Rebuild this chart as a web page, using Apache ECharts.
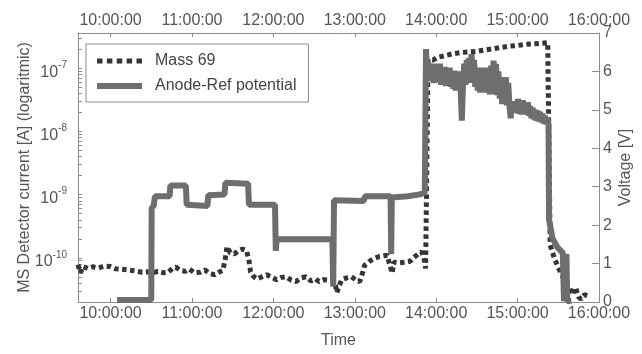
<!DOCTYPE html>
<html>
<head>
<meta charset="utf-8">
<script src="https://cdn.jsdelivr.net/npm/echarts@6/dist/echarts.min.js"></script>
<style>
html, body { margin: 0; background: #fff; }
#chart { width: 642px; height: 354px; }
</style>
</head>
<body>
<div id="chart"></div>
<script>
// time in decimal hours, current in A, voltage in V
var timeTicks = [10, 11, 12, 13, 14, 15, 16];
var decadeTicks = [-10, -9, -8, -7];

var massTime = [9.60, 9.63, 9.66, 9.72, 9.78, 9.85, 9.92, 9.99, 10.06, 10.14, 10.22, 10.30, 10.39, 10.46, 10.51,
    10.58, 10.65, 10.71, 10.76, 10.80, 10.86, 10.92, 10.97, 11.03, 11.10, 11.16, 11.22, 11.28, 11.34, 11.38,
    11.41, 11.43, 11.47, 11.52, 11.57, 11.62, 11.67, 11.70, 11.72, 11.76, 11.80, 11.86, 11.92, 11.98, 12.04,
    12.10, 12.16, 12.22, 12.28, 12.34, 12.40, 12.46, 12.52, 12.56, 12.62, 12.68, 12.72, 12.76, 12.78, 12.80,
    12.84, 12.90, 12.96, 13.02, 13.06, 13.10, 13.12, 13.18, 13.24, 13.30, 13.36, 13.40, 13.42, 13.46, 13.48,
    13.55, 13.62, 13.68, 13.72, 13.78, 13.82, 13.85, 13.87, 13.90, 13.96, 14.02, 14.10, 14.20, 14.30, 14.40,
    14.50, 14.60, 14.70, 14.80, 14.90, 15.00, 15.10, 15.20, 15.30, 15.37, 15.385, 15.40, 15.45, 15.50, 15.55,
    15.60, 15.64, 15.68, 15.71, 15.75, 15.78, 15.82, 15.86];
var massCurrent = [7.8e-11, 5.8e-11, 7.3e-11, 6.8e-11, 7.2e-11, 6.9e-11, 7.4e-11, 7.3e-11, 6.7e-11, 6.6e-11, 6.4e-11, 6.2e-11, 5.9e-11, 6.0e-11, 5.7e-11,
    6.1e-11, 5.8e-11, 5.9e-11, 6.8e-11, 7.1e-11, 6.3e-11, 6.1e-11, 6.6e-11, 5.8e-11, 5.9e-11, 6.4e-11, 5.6e-11, 5.4e-11, 6.0e-11, 6.3e-11,
    9.8e-11, 1.5e-10, 1.2e-10, 1.15e-10, 1.3e-10, 1.38e-10, 1.3e-10, 9.1e-11, 6.0e-11, 5.0e-11, 4.6e-11, 5.0e-11, 5.4e-11, 4.9e-11, 4.5e-11,
    4.9e-11, 5.0e-11, 4.4e-11, 4.2e-11, 4.8e-11, 5.0e-11, 4.3e-11, 4.6e-11, 4.2e-11, 4.5e-11, 4.4e-11, 4.5e-11, 3.9e-11, 2.8e-11, 3.4e-11,
    4.5e-11, 4.8e-11, 5.0e-11, 4.4e-11, 4.2e-11, 6.0e-11, 7.6e-11, 8.8e-11, 9.8e-11, 1.05e-10, 1.08e-10, 1.1e-10, 8.5e-11, 5.7e-11, 8.5e-11,
    8.3e-11, 8.5e-11, 8.8e-11, 1.0e-10, 1.15e-10, 1.25e-10, 1.0e-10, 6.8e-11, 1.4e-7, 1.35e-7, 1.5e-7, 1.58e-7, 1.7e-7, 1.78e-7, 1.82e-7,
    1.86e-7, 1.95e-7, 2.05e-7, 2.15e-7, 2.25e-7, 2.3e-7, 2.4e-7, 2.45e-7, 2.5e-7, 2.55e-7, 2.5e-7, 1.6e-10, 1.0e-10, 7.0e-11, 5.2e-11,
    4.0e-11, 3.2e-11, 2.6e-11, 3.4e-11, 2.4e-11, 2.2e-11, 2.6e-11, 2.5e-11];

var anodeTime = [10.08, 10.50, 10.505, 10.53, 10.545, 10.725, 10.735, 10.925, 10.935, 11.19, 11.20, 11.40, 11.41, 11.69, 11.70,
    12.02, 12.03, 12.04, 12.725, 12.735, 12.745, 13.11, 13.125, 13.44, 13.447, 13.455, 13.65, 13.80, 13.86,
    13.875, 13.885, 13.90, 13.91, 13.925, 13.94, 13.955, 13.97, 13.985, 14.00, 14.015, 14.03, 14.045, 14.06, 14.075,
    14.09, 14.105, 14.12, 14.135, 14.15, 14.165, 14.18, 14.195, 14.21, 14.225, 14.24, 14.255, 14.27, 14.285, 14.30,
    14.315, 14.33, 14.345, 14.36, 14.375, 14.39, 14.405, 14.42, 14.435, 14.45, 14.465, 14.48, 14.495, 14.51, 14.525,
    14.54, 14.555, 14.57, 14.585, 14.60, 14.615, 14.63, 14.645, 14.66, 14.675, 14.69, 14.705, 14.72, 14.735, 14.75,
    14.765, 14.78, 14.795, 14.81, 14.825, 14.84, 14.855, 14.87, 14.885, 14.90, 14.915, 14.93, 14.945, 14.96, 14.975,
    14.99, 15.005, 15.02, 15.035, 15.05, 15.065, 15.08, 15.095, 15.11, 15.125, 15.14, 15.155, 15.17, 15.185, 15.20,
    15.215, 15.23, 15.245, 15.26, 15.275, 15.29, 15.305, 15.32, 15.335, 15.35, 15.365, 15.38, 15.386, 15.43, 15.49,
    15.555, 15.57, 15.59, 15.60, 15.61, 15.66];
var anodeVoltage = [0.05, 0.05, 2.45, 2.5, 2.75, 2.75, 3.03, 3.03, 2.53, 2.5, 2.78, 2.8, 3.1, 3.08, 2.53,
    2.53, 1.33, 1.63, 1.63, 0.4, 2.65, 2.63, 2.75, 2.75, 1.25, 2.72, 2.75, 2.8, 2.85,
    6.58, 6.0, 6.25, 5.75, 6.2, 5.8, 6.15, 5.7, 6.2, 5.75, 6.1, 5.72, 6.2, 5.65, 6.1,
    5.7, 6.12, 5.62, 6.05, 5.68, 6.1, 5.6, 6.0, 5.55, 6.02, 5.5, 5.98, 5.52, 6.0, 5.55,
    4.72, 5.7, 6.2, 5.65, 6.3, 5.7, 6.35, 5.75, 6.45, 5.7, 6.3, 5.6, 6.1, 5.5, 6.05,
    5.45, 6.1, 5.5, 6.0, 5.45, 6.1, 5.45, 6.0, 5.4, 6.15, 5.42, 6.28, 5.4, 6.2, 5.38,
    6.0, 5.3, 5.85, 5.15, 5.8, 5.2, 5.85, 5.12, 5.7, 5.1, 4.78, 5.2, 5.25, 4.95, 5.22,
    4.92, 5.28, 4.9, 5.2, 4.88, 5.25, 4.9, 5.15, 4.88, 5.2, 4.85, 5.1, 4.78, 5.05, 4.75,
    5.0, 4.72, 4.98, 4.7, 4.95, 4.68, 4.9, 4.65, 4.85, 4.62, 4.8, 4.62, 2.15, 1.65, 1.42,
    1.28, 0.02, 0.05, 1.25, 0.02, 0.03];

var yMin = -10.7, yMax = -6.44;
var axisColor = '#8c8c8c';
var textColor = '#555';
var font = 'Liberation Sans';

function hms(h) {
    var hh = Math.floor(h + 1e-6);
    var mm = Math.round((h - hh) * 60);
    return hh + ':' + (mm < 10 ? '0' : '') + mm + ':00';
}

// minor log ticks 2..9 inside each decade
var logTicks = [];
for (var e = -11; e <= -7; e++) {
    for (var k = 1; k <= 9; k++) {
        var v = e + Math.log10(k);
        if (v >= yMin && v <= yMax) logTicks.push(v);
    }
}

function timeAxis(pos) {
    return {
        type: 'value',
        position: pos,
        min: 9.6,
        max: 16,
        axisLine: { show: true, onZero: false, lineStyle: { color: axisColor, width: 1 } },
        axisTick: { show: true, inside: true, length: 4, customValues: timeTicks, lineStyle: { color: axisColor } },
        axisLabel: { customValues: timeTicks, formatter: hms, color: textColor, fontSize: 16, fontFamily: font, margin: 4 },
        splitLine: { show: false }
    };
}

var myChart = echarts.init(document.getElementById('chart'));

var bottomAxis = timeAxis('bottom');
bottomAxis.name = 'Time';
bottomAxis.nameLocation = 'middle';
bottomAxis.nameGap = 31;
bottomAxis.nameMoveOverlap = false;
bottomAxis.nameTextStyle = { color: textColor, fontSize: 16, fontFamily: font };

var option = {
    animation: false,
    grid: { left: 78, right: 33, top: 33, bottom: 41 },
    legend: {
        orient: 'vertical',
        left: 86,
        top: 44,
        padding: [9, 12, 8, 11],
        borderColor: axisColor,
        borderWidth: 1,
        itemWidth: 45,
        itemHeight: 14,
        itemGap: 9,
        symbolKeepAspect: true,
        textStyle: { color: '#444', fontSize: 16, fontFamily: font, padding: [0, 0, 0, 8] },
        data: [{
            name: 'Mass 69',
            icon: 'path://M0,0h5.5v5h-5.5zM9.875,0h5.5v5h-5.5zM19.75,0h5.5v5h-5.5zM29.625,0h5.5v5h-5.5zM39.5,0h5.5v5h-5.5z',
            itemStyle: { color: '#353535' }
        }, {
            name: 'Anode-Ref potential',
            icon: 'path://M0,0h45v6h-45z',
            itemStyle: { color: '#6e6e6e' }
        }]
    },
    xAxis: [bottomAxis, timeAxis('top')],
    yAxis: [{
        type: 'value',
        position: 'left',
        min: yMin,
        max: yMax,
        name: 'MS Detector current [A] (logaritmic)',
        nameLocation: 'middle',
        nameGap: 45,
        nameMoveOverlap: false,
        nameTextStyle: { color: textColor, fontSize: 16, fontFamily: font },
        axisLine: { show: true, lineStyle: { color: axisColor, width: 1 } },
        axisTick: { show: true, inside: true, length: 4, customValues: logTicks, lineStyle: { color: axisColor } },
        axisLabel: {
            customValues: decadeTicks,
            margin: 11,
            formatter: function (v) { return '{b|10}{s|' + Math.round(v) + '}'; },
            rich: {
                b: { color: textColor, fontSize: 16, fontFamily: font, lineHeight: 16, padding: [8, 0, 0, 0] },
                s: { color: textColor, fontSize: 10, fontFamily: font, lineHeight: 10, verticalAlign: 'top' }
            }
        },
        splitLine: { show: false }
    }, {
        type: 'value',
        position: 'right',
        min: 0,
        max: 7,
        interval: 1,
        name: 'Voltage [V]',
        nameLocation: 'middle',
        nameGap: 19,
        nameMoveOverlap: false,
        nameTextStyle: { color: textColor, fontSize: 16, fontFamily: font },
        axisLine: { show: true, lineStyle: { color: axisColor, width: 1 } },
        axisTick: { show: true, inside: true, length: 7, lineStyle: { color: axisColor } },
        axisLabel: { color: textColor, fontSize: 16, fontFamily: font, margin: 4 },
        splitLine: { show: false }
    }],
    series: [{
        name: 'Mass 69',
        type: 'line',
        xAxisIndex: 0,
        yAxisIndex: 0,
        symbol: 'none',
        z: 2,
        lineStyle: { color: '#353535', width: 5, type: [4.5, 3.5], cap: 'butt', join: 'bevel' },
        itemStyle: { color: '#353535' },
        data: massTime.map(function (t, i) { return [t, Math.log10(massCurrent[i])]; })
    }, {
        name: 'Anode-Ref potential',
        type: 'line',
        xAxisIndex: 0,
        yAxisIndex: 1,
        symbol: 'none',
        z: 3,
        lineStyle: { color: '#6e6e6e', width: 6, join: 'bevel' },
        itemStyle: { color: '#6e6e6e' },
        data: anodeTime.map(function (t, i) { return [t, anodeVoltage[i]]; })
    }]
};
myChart.setOption(option, true);
</script>
</body>
</html>
